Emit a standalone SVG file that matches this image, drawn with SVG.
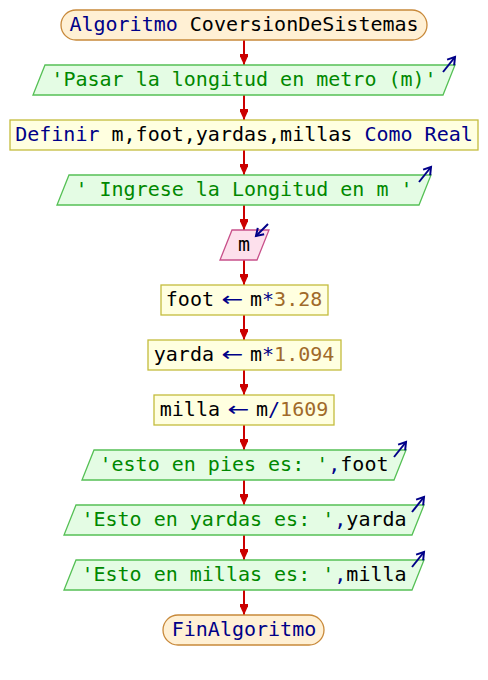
<svg xmlns="http://www.w3.org/2000/svg" width="488" height="680" viewBox="0 0 488 680">
  <style>
    text { font-family: "DejaVu Sans Mono", "Liberation Mono", monospace; font-size: 20px; text-anchor: middle; fill: #000; white-space: pre; }
    .kw { fill: #000088; }
    .str { fill: #008800; }
    .num { fill: #a06a2a; }
    .op { fill: #000088; }
    .l { text-anchor: end; }
    .r { text-anchor: start; }
    .arrow { fill: #000088; font-family: "DejaVu Sans", sans-serif; }
    .term { fill: #fff0d4; stroke: #c8893a; stroke-width: 1.3; }
    .proc { fill: #ffffe0; stroke: #c4bc3c; stroke-width: 1.3; }
    .out { fill: #e4fce4; stroke: #55c055; stroke-width: 1.3; }
    .in { fill: #fde0ec; stroke: #c8508a; stroke-width: 1.3; }
    .flow { stroke: #cc0000; stroke-width: 2; fill: none; marker-end: url(#head); }
    .io { stroke: #000088; stroke-width: 2; fill: none; marker-end: url(#ioHead); }
  </style>
  <defs>
    <marker id="head" markerUnits="userSpaceOnUse" markerWidth="12" markerHeight="8" refX="11" refY="4" orient="auto">
      <path d="M0,-1 L11,4 L0,9 Z" fill="#cc0000"/>
    </marker>
    <marker id="ioHead" markerUnits="userSpaceOnUse" markerWidth="10" markerHeight="10" refX="8" refY="5" orient="auto" overflow="visible">
      <path d="M1,0.5 L8,5 L1,9.5" fill="none" stroke="#000088" stroke-width="2"/>
    </marker>
  </defs>

  <g id="connectors">
    <line class="flow" x1="244" y1="40" x2="244" y2="65"/>
    <line class="flow" x1="244" y1="95" x2="244" y2="120"/>
    <line class="flow" x1="244" y1="150" x2="244" y2="175"/>
    <line class="flow" x1="244" y1="205" x2="244" y2="230"/>
    <line class="flow" x1="244" y1="260" x2="244" y2="285"/>
    <line class="flow" x1="244" y1="315" x2="244" y2="340"/>
    <line class="flow" x1="244" y1="370" x2="244" y2="395"/>
    <line class="flow" x1="244" y1="425" x2="244" y2="450"/>
    <line class="flow" x1="244" y1="480" x2="244" y2="505"/>
    <line class="flow" x1="244" y1="535" x2="244" y2="560"/>
    <line class="flow" x1="244" y1="590" x2="244" y2="615"/>
  </g>

  <g id="start">
    <rect class="term" x="61" y="10" width="366" height="30" rx="15"/>
    <text x="244" y="31"><tspan class="kw">Algoritmo</tspan> CoversionDeSistemas</text>
  </g>

  <g id="write1">
    <polygon class="out" points="45,65 455,65 443,95 33,95"/>
    <text x="244" y="86" class="str">'Pasar la longitud en metro (m)'</text>
    <line class="io" x1="443" y1="72" x2="455" y2="57"/>
  </g>

  <g id="define">
    <rect class="proc" x="10" y="120" width="468" height="30"/>
    <text x="244" y="141"><tspan class="kw">Definir</tspan> m,foot,yardas,millas <tspan class="kw">Como Real</tspan></text>
  </g>

  <g id="write2">
    <polygon class="out" points="69,175 431,175 419,205 57,205"/>
    <text x="244" y="196" class="str">' Ingrese la Longitud en m '</text>
    <line class="io" x1="419" y1="182" x2="431" y2="167"/>
  </g>

  <g id="read">
    <polygon class="in" points="232,230 269,230 257,260 220,260"/>
    <text x="244" y="251">m</text>
    <line class="io" x1="268" y1="224" x2="256" y2="236"/>
  </g>

  <!-- assignments: target, wide arrow, expression -->
  <g id="assignFoot">
    <rect class="proc" x="161" y="285" width="167" height="30"/>
    <text class="l" x="214" y="306">foot</text>
    <text class="arrow" transform="translate(232.5 306) scale(1.3 1)">←</text>
    <text class="r" x="250" y="306">m<tspan class="op">*</tspan><tspan class="num">3.28</tspan></text>
  </g>

  <g id="assignYarda">
    <rect class="proc" x="148" y="340" width="193" height="30"/>
    <text class="l" x="214" y="361">yarda</text>
    <text class="arrow" transform="translate(232.5 361) scale(1.3 1)">←</text>
    <text class="r" x="250" y="361">m<tspan class="op">*</tspan><tspan class="num">1.094</tspan></text>
  </g>

  <g id="assignMilla">
    <rect class="proc" x="154" y="395" width="180" height="30"/>
    <text class="l" x="220" y="416">milla</text>
    <text class="arrow" transform="translate(238.5 416) scale(1.3 1)">←</text>
    <text class="r" x="256" y="416">m<tspan class="op">/</tspan><tspan class="num">1609</tspan></text>
  </g>

  <g id="write3">
    <polygon class="out" points="94,450 406,450 394,480 82,480"/>
    <text x="244" y="471"><tspan class="str">'esto en pies es: '</tspan><tspan class="op">,</tspan>foot</text>
    <line class="io" x1="394" y1="457" x2="406" y2="442"/>
  </g>

  <g id="write4">
    <polygon class="out" points="76,505 424,505 412,535 64,535"/>
    <text x="244" y="526"><tspan class="str">'Esto en yardas es: '</tspan><tspan class="op">,</tspan>yarda</text>
    <line class="io" x1="412" y1="512" x2="424" y2="497"/>
  </g>

  <g id="write5">
    <polygon class="out" points="76,560 424,560 412,590 64,590"/>
    <text x="244" y="581"><tspan class="str">'Esto en millas es: '</tspan><tspan class="op">,</tspan>milla</text>
    <line class="io" x1="412" y1="567" x2="424" y2="552"/>
  </g>

  <g id="end">
    <rect class="term" x="163" y="615" width="161" height="30" rx="15"/>
    <text x="244" y="636" class="kw">FinAlgoritmo</text>
  </g>
</svg>
